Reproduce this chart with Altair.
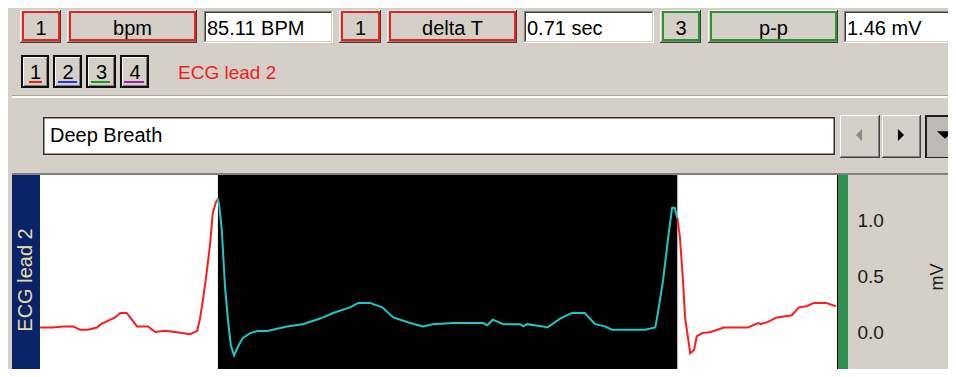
import altair as alt
import pandas as pd

# ---------------- data ----------------
pre_t = [0.000, 0.019, 0.036, 0.051, 0.062, 0.074, 0.088, 0.094, 0.105, 0.116, 0.124, 0.134, 0.142, 0.150,
         0.167, 0.178, 0.193, 0.209, 0.232, 0.243, 0.247, 0.252, 0.258, 0.263, 0.267, 0.272, 0.275]
pre_v = [0.04, 0.04, 0.05, 0.05, 0.02, 0.02, 0.04, 0.07, 0.10, 0.13, 0.17, 0.17, 0.11, 0.05,
         0.05, 0.00, 0.01, 0.00, -0.02, 0.01, 0.11, 0.29, 0.55, 0.79, 1.06, 1.16, 1.19]

sel_t = [0.275, 0.277, 0.281, 0.286, 0.291, 0.295, 0.300, 0.306, 0.314, 0.325, 0.337, 0.351, 0.382, 0.406,
         0.433, 0.453, 0.479, 0.492, 0.510, 0.529, 0.546, 0.572, 0.592, 0.607, 0.638, 0.685, 0.691, 0.700,
         0.716, 0.742, 0.747, 0.753, 0.777, 0.784, 0.804, 0.822, 0.842, 0.858, 0.873, 0.884, 0.935, 0.951,
         0.955, 0.963, 0.971, 0.977, 0.981, 0.985]
sel_v = [1.19, 1.13, 0.91, 0.40, 0.08, -0.12, -0.21, -0.13, -0.05, -0.01, 0.01, 0.01, 0.05, 0.07,
         0.12, 0.17, 0.22, 0.26, 0.26, 0.22, 0.13, 0.08, 0.05, 0.07, 0.08, 0.08, 0.06, 0.11,
         0.07, 0.07, 0.05, 0.07, 0.05, 0.04, 0.12, 0.17, 0.17, 0.07, 0.05, 0.02, 0.02, 0.04,
         0.17, 0.46, 0.85, 1.11, 1.11, 1.02]

post_t = [0.985, 0.989, 0.994, 0.997, 1.002, 1.005, 1.011, 1.015, 1.023, 1.037, 1.057, 1.094, 1.110, 1.114,
          1.125, 1.139, 1.162, 1.173, 1.185, 1.196, 1.215, 1.230]
post_v = [1.02, 0.85, 0.44, 0.13, -0.07, -0.19, -0.16, -0.04, -0.01, 0.00, 0.04, 0.04, 0.08, 0.07,
          0.09, 0.13, 0.15, 0.22, 0.23, 0.26, 0.26, 0.23]

selection = [0.275, 0.985]          # seconds (delta T = 0.71 s)
y_ticks = [0.0, 0.5, 1.0]           # mV

measure_labels = ["bpm", "delta T", "p-p"]
measure_channels = ["1", "1", "3"]
measure_values = ["85.11 BPM", "0.71 sec", "1.46 mV"]
channel_buttons = ["1", "2", "3", "4"]
channel_name = "ECG lead 2"
journal_text = "Deep Breath"
unit_label = "mV"

# ---------------- helpers (UI chrome) ----------------
BG = "#d4d0c8"
FONT = "Liberation Sans"
RED = "#f01e1e"
GREEN = "#2a9433"
OFF = 8  # page margin


def one():
    return alt.Data(values=[{"k": 0}])


def rect(x0, y0, x1, y1, fill, stroke=None, sw=1.0):
    kw = dict(fill=fill)
    if stroke:
        kw.update(stroke=stroke, strokeWidth=sw)
    return alt.Chart(one()).mark_rect(**kw).encode(
        x=alt.value(x0 - OFF), x2=alt.value(x1 - OFF),
        y=alt.value(y0 - OFF), y2=alt.value(y1 - OFF))


def label(x, y, s, size=20, color="#000000", align="left", baseline="alphabetic", angle=None):
    kw = dict(text=s, fontSize=size, color=color, align=align, baseline=baseline, font=FONT)
    if angle is not None:
        kw["angle"] = angle
    return alt.Chart(one()).mark_text(**kw).encode(x=alt.value(x - OFF), y=alt.value(y - OFF))


def raised(x0, y0, x1, y1, face=BG):
    return [rect(x0, y0, x1, y1, "#404040"),
            rect(x0, y0, x1 - 1, y1 - 1, "#ffffff"),
            rect(x0 + 1, y0 + 1, x1 - 1, y1 - 1, "#808080"),
            rect(x0 + 1, y0 + 1, x1 - 2, y1 - 2, face)]


def sunken(x0, y0, x1, y1, face="#ffffff"):
    return [rect(x0, y0, x1, y1, "#ffffff"),
            rect(x0, y0, x1 - 1, y1 - 1, "#808080"),
            rect(x0 + 1, y0 + 1, x1 - 1, y1 - 1, BG),
            rect(x0 + 1, y0 + 1, x1 - 2, y1 - 2, "#404040"),
            rect(x0 + 2, y0 + 2, x1 - 2, y1 - 2, face)]


def colored_box(x0, y0, x1, y1, col):
    return raised(x0 - 3, y0 - 2, x1 + 2, y1 + 3) + [rect(x0, y0, x1, y1, BG, col, 2)]


def tri(x, y, shape, size, color):
    return alt.Chart(one()).mark_point(shape=shape, size=size, filled=True, color=color, opacity=1,
                                       strokeWidth=0).encode(x=alt.value(x - OFF), y=alt.value(y - OFF))


layers = []

# top row: measurement boxes
top_boxes = [(23, 59, 70, 195, 204, 333, RED),
             (342, 379, 390, 515, 524, 654, RED),
             (663, 699, 711, 836, 844, 962, GREEN)]
for i, (a0, a1, b0, b1, c0, c1, col) in enumerate(top_boxes):
    layers += colored_box(a0, 12, a1, 40, col)
    layers.append(label((a0 + a1) / 2, 34.5, measure_channels[i], align="center"))
    layers += colored_box(b0, 12, b1, 40, col)
    layers.append(label((b0 + b1) / 2, 34.5, measure_labels[i], align="center"))
    layers += sunken(c0, 11, c1, 43)
    layers.append(label(c0 + 3, 34.5, measure_values[i]))

# second row: channel buttons
btns = [(21, 49, 29, 42, RED), (53, 82, 58, 77, "#2b2bff"), (86, 116, 91, 110, "#199a19"),
        (120, 149, 124, 144, "#9a22a8")]
for i, (x0, x1, u0, u1, col) in enumerate(btns):
    layers += [rect(x0, 55, x1, 88, "#101010"),
               rect(x0 + 2, 57, x1 - 2, 86, "#ffffff"),
               rect(x0 + 3, 58, x1 - 2, 86, "#808080"),
               rect(x0 + 3, 58, x1 - 3, 85, BG)]
    layers.append(label((x0 + x1) / 2 + 0.5, 78.5, channel_buttons[i], align="center"))
    layers.append(rect(u0, 81, u1, 83, col))
layers.append(label(178, 78.5, channel_name, size=19, color=RED))

# separator
layers += [rect(12, 95, 962, 96, "#a8a49c"), rect(12, 96, 962, 98, "#ffffff")]

# journal row
layers += [rect(43, 117, 835, 155, "#303030"), rect(44.5, 118.5, 833.5, 153.5, "#ffffff")]
layers.append(label(50, 141.7, journal_text))
layers += raised(840, 115, 880, 158)
layers += raised(882, 115, 921, 158)
layers += [rect(925, 115, 962, 158, "#202020"), rect(927, 117, 962, 157, "#bdbab3")]
layers.append(tri(859, 135, "M 0.5 -1 L -0.5 0 L 0.5 1 Z", 150, "#8a8a8a"))
layers.append(tri(901, 135, "M -0.5 -1 L 0.5 0 L -0.5 1 Z", 150, "#000000"))
layers.append(tri(945, 135, "M -1 -0.45 L 1 -0.45 L 0 0.45 Z", 260, "#000000"))

# plot frame
layers += [rect(12, 173, 962, 175, "#808080"),
           rect(12, 175, 40, 380, "#0a246a"),
           rect(40, 175, 837, 380, "#ffffff"),
           rect(837, 175, 838.5, 380, "#000000"),
           rect(838.5, 175, 848, 380, "#2e9150")]
layers.append(label(26, 280, channel_name, size=20, color="#e8dca8", align="center",
                    baseline="middle", angle=270))

# ---------------- data layers ----------------
x_scale = alt.Scale(domain=[0, 1.232], range=[32, 32 + 1.232 * 647], nice=False, zero=False)
y_scale = alt.Scale(domain=[0, 1], range=[324, 212], nice=False, zero=False)

sel_df = pd.DataFrame({"t0": [selection[0]], "t1": [selection[1]]})
layers.append(alt.Chart(sel_df).mark_rect(color="#000000").encode(
    x=alt.X("t0:Q", scale=x_scale, axis=None), x2="t1:Q",
    y=alt.value(175 - OFF), y2=alt.value(372)))

ecg = pd.concat([
    pd.DataFrame({"t": pre_t, "v": pre_v, "seg": "pre"}),
    pd.DataFrame({"t": sel_t, "v": sel_v, "seg": "sel"}),
    pd.DataFrame({"t": post_t, "v": post_v, "seg": "post"}),
], ignore_index=True)
layers.append(alt.Chart(ecg).mark_line(strokeWidth=2, strokeJoin="miter").encode(
    x=alt.X("t:Q", scale=x_scale, axis=None),
    y=alt.Y("v:Q", scale=y_scale, axis=None),
    color=alt.Color("seg:N", scale=alt.Scale(domain=["pre", "sel", "post"],
                                             range=["#ff1a1a", "#1ec8c8", "#ff1a1a"]), legend=None)))

tick_df = pd.DataFrame({"v": y_ticks})
layers.append(alt.Chart(tick_df).mark_text(align="left", baseline="middle", fontSize=19, font=FONT,
                                           color="#1a1a1a", dy=1).encode(
    x=alt.value(857.5 - OFF),
    y=alt.Y("v:Q", scale=y_scale, axis=None),
    text=alt.Text("v:Q", format=".1f")))
layers.append(label(938, 277, unit_label, size=18, color="#1a1a1a", align="center",
                    baseline="middle", angle=270))

chart = alt.layer(*layers).properties(
    width=940, height=361,
    autosize=alt.AutoSizeParams(type="fit", contains="padding"),
    padding=0, background=BG,
).configure_view(stroke=None)

chart.save("out.html", embed_options={"renderer": "svg", "actions": False})
